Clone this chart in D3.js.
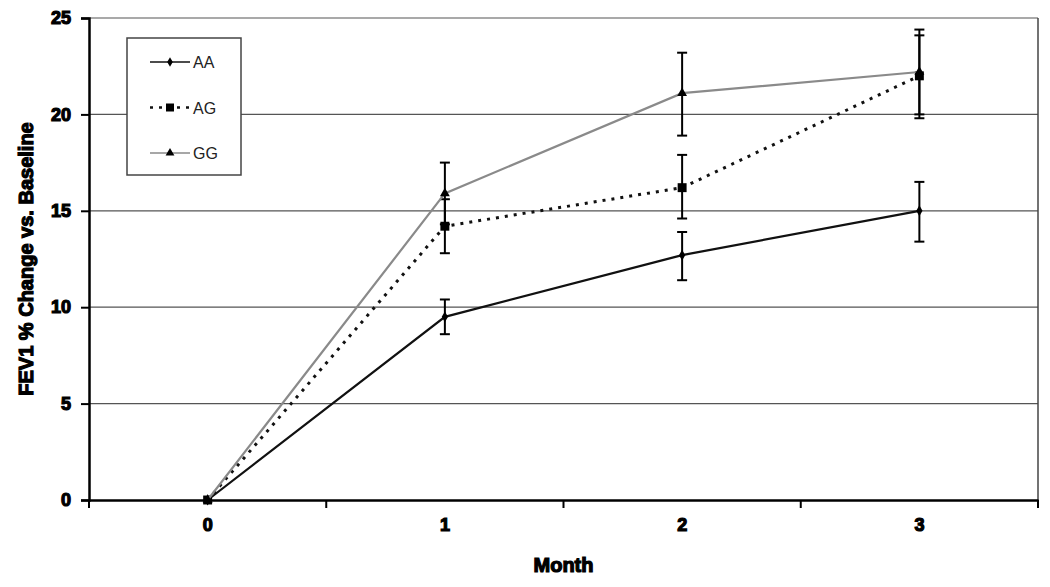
<!DOCTYPE html>
<html>
<head>
<meta charset="utf-8">
<script src="https://cdn.jsdelivr.net/npm/d3@7"></script>
<style>
  body { margin: 0; background: #fff; }
  .tick text { font-family: "Liberation Sans", Arial, sans-serif; font-weight: bold; font-size: 18px; fill: #000; stroke: #000; stroke-width: 1.2px; }
  .title { font-family: "Liberation Sans", Arial, sans-serif; font-weight: bold; font-size: 20px; fill: #000; stroke: #000; stroke-width: 1.2px; }
  .legend text { font-family: "Liberation Sans", Arial, sans-serif; font-size: 16px; fill: #222; }
</style>
</head>
<body>
<div id="chart"></div>
<script>
var months = ["0", "1", "2", "3"];
var seriesNames = ["AA", "AG", "GG"];
var aaValues = [0, 9.5, 12.7, 15.0];
var aaLow = [0, 8.6, 11.4, 13.4];
var aaHigh = [0, 10.4, 13.9, 16.5];
var agValues = [0, 14.2, 16.2, 22.0];
var agLow = [0, 12.8, 14.6, 19.8];
var agHigh = [0, 15.6, 17.9, 24.1];
var ggValues = [0, 15.9, 21.1, 22.2];
var ggLow = [0, 14.3, 18.9, 20.0];
var ggHigh = [0, 17.5, 23.2, 24.4];
var yTicks = [0, 5, 10, 15, 20, 25];

var width = 1050, height = 587;
var margin = {top: 18, right: 12, bottom: 88, left: 89};

var svg = d3.select("#chart")
            .append("svg")
              .attr("width", width)
              .attr("height", height);

var x = d3.scaleBand()
    .domain(months)
    .range([margin.left, width - margin.right]);

var y = d3.scaleLinear()
    .domain([0, 25])
    .range([height - margin.bottom + 1, margin.top]);

var series = [
    {name: "AA", values: aaValues, low: aaLow, high: aaHigh, color: "#111", dash: null, marker: "diamond"},
    {name: "AG", values: agValues, low: agLow, high: agHigh, color: "#111", dash: "3,6", marker: "square"},
    {name: "GG", values: ggValues, low: ggLow, high: ggHigh, color: "#8a8a8a", dash: null, marker: "triangle"}
];

// gridlines
svg.append("g")
    .selectAll("line")
    .data(yTicks.slice(1))
    .enter().append("line")
    .attr("x1", margin.left)
    .attr("x2", width - margin.right)
    .attr("y1", d => y(d))
    .attr("y2", d => y(d))
    .style("stroke", "#555")
    .style("stroke-width", 1.2);

// right border
svg.append("line")
    .attr("x1", width - margin.right).attr("x2", width - margin.right)
    .attr("y1", y(25)).attr("y2", y(0))
    .style("stroke", "#444").style("stroke-width", 1.5);

// axes
var xAxis = d3.axisBottom(x).tickSize(0).tickPadding(18);
var gx = svg.append("g")
    .attr("transform", "translate(0," + y(0) + ")")
    .call(xAxis);
gx.select(".domain").style("stroke", "#000").style("stroke-width", 2.5);

// boundary ticks on x axis
var bounds = months.map(m => x(m)).concat([x(months[months.length - 1]) + x.bandwidth()]);
gx.selectAll(".bound")
    .data(bounds)
    .enter().append("line")
    .attr("x1", d => d).attr("x2", d => d)
    .attr("y1", 0).attr("y2", 8)
    .style("stroke", "#000").style("stroke-width", 2);

var yAxis = d3.axisLeft(y).tickValues(yTicks).tickSize(8).tickPadding(10);
var gy = svg.append("g")
    .attr("transform", "translate(" + margin.left + ",0)")
    .call(yAxis);
gy.select(".domain").style("stroke", "#000").style("stroke-width", 2.5);
gy.selectAll(".tick line").style("stroke", "#000").style("stroke-width", 2);

// axis titles
svg.append("text")
    .attr("class", "title")
    .attr("x", x(months[0]) + (bounds[4] - bounds[0]) / 2)
    .attr("y", 572)
    .attr("text-anchor", "middle")
    .text("Month");

svg.append("text")
    .attr("class", "title")
    .attr("transform", "translate(33," + y(12.5) + ") rotate(-90)")
    .attr("text-anchor", "middle")
    .text("FEV1 % Change vs. Baseline");

var cx = d => x(d) + x.bandwidth() / 2;

var line = d3.line()
    .x((d, i) => cx(months[i]))
    .y(d => y(d));

function drawMarker(sel, type, scale) {
    var k = scale || 1;
    if (type === "diamond") {
        sel.append("path").attr("d", d3.symbol(d3.symbolDiamond, 34 * k)()).style("fill", "#000");
    } else if (type === "square") {
        sel.append("path").attr("d", d3.symbol(d3.symbolSquare, 80 * k)()).style("fill", "#000");
    } else {
        sel.append("path").attr("d", d3.symbol(d3.symbolTriangle, 42 * k)()).style("fill", "#000");
    }
}

series.forEach(function(s) {
    var g = svg.append("g");
    g.append("path")
        .datum(s.values)
        .attr("d", line)
        .style("fill", "none")
        .style("stroke", s.color)
        .style("stroke-width", s.name === "AG" ? 3 : 2.2)
        .style("stroke-dasharray", s.dash);

    // error bars
    s.values.forEach(function(v, i) {
        if (i === 0) return;
        var px = cx(months[i]);
        g.append("line")
            .attr("x1", px).attr("x2", px)
            .attr("y1", y(s.low[i])).attr("y2", y(s.high[i]))
            .style("stroke", "#000").style("stroke-width", 2);
        [s.low[i], s.high[i]].forEach(function(e) {
            g.append("line")
                .attr("x1", px - 5).attr("x2", px + 5)
                .attr("y1", y(e)).attr("y2", y(e))
                .style("stroke", "#000").style("stroke-width", 2);
        });
    });

    s.values.forEach(function(v, i) {
        var m = g.append("g").attr("transform", "translate(" + cx(months[i]) + "," + y(v) + ")");
        drawMarker(m, s.marker, 1);
    });
});

// legend
var legend = svg.append("g").attr("class", "legend");
legend.append("rect")
    .attr("x", 127).attr("y", 38)
    .attr("width", 114).attr("height", 137)
    .style("fill", "#fff")
    .style("stroke", "#444")
    .style("stroke-width", 1.5);

series.forEach(function(s, i) {
    var ly = 62 + i * 45.5;
    legend.append("line")
        .attr("x1", 150).attr("x2", 190)
        .attr("y1", ly).attr("y2", ly)
        .style("stroke", s.color)
        .style("stroke-width", s.name === "AG" ? 2.5 : 1.5)
        .style("stroke-dasharray", s.dash);
    var m = legend.append("g").attr("transform", "translate(170," + ly + ")");
    drawMarker(m, s.marker, 0.8);
    legend.append("text")
        .attr("x", 193).attr("y", ly + 6)
        .text(s.name);
});
</script>
</body>
</html>
